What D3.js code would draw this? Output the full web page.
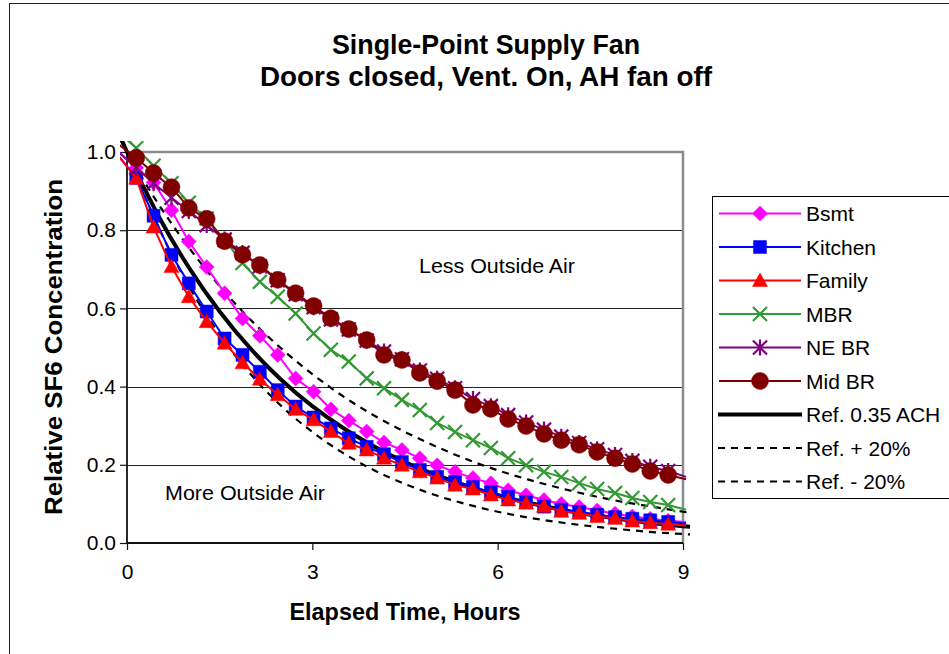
<!DOCTYPE html>
<html>
<head>
<meta charset="utf-8">
<script src="https://cdnjs.cloudflare.com/ajax/libs/d3/7.8.5/d3.min.js"></script>
<style>
  html, body { margin: 0; padding: 0; background: #fff; }
  svg { display: block; font-family: "Liberation Sans", Arial, sans-serif; }
</style>
</head>
<body>
<svg id="chart" width="949" height="654"></svg>
<script>
// sample times (hours) - first and last fall just outside the axis
var times = [-0.14, 0.15, 0.43, 0.72, 1.00, 1.29, 1.58, 1.87, 2.15, 2.44, 2.73, 3.02, 3.30, 3.59, 3.88,
  4.16, 4.45, 4.74, 5.02, 5.31, 5.60, 5.89, 6.17, 6.46, 6.75, 7.03, 7.32, 7.61, 7.90, 8.18, 8.47, 8.76, 9.05];

var bsmt = [1.00, 0.960, 0.922, 0.851, 0.771, 0.706, 0.639, 0.574, 0.530, 0.481, 0.421, 0.387, 0.342, 0.313, 0.285,
  0.257, 0.238, 0.217, 0.199, 0.182, 0.166, 0.153, 0.135, 0.122, 0.110, 0.100, 0.092, 0.083, 0.075, 0.068, 0.062, 0.057, 0.054];
var kitchen = [0.99, 0.934, 0.837, 0.737, 0.664, 0.592, 0.523, 0.481, 0.438, 0.391, 0.349, 0.321, 0.293, 0.268, 0.246,
  0.227, 0.207, 0.187, 0.169, 0.156, 0.143, 0.130, 0.118, 0.104, 0.093, 0.085, 0.079, 0.072, 0.066, 0.062, 0.058, 0.054, 0.050];
var family = [0.99, 0.933, 0.808, 0.707, 0.630, 0.566, 0.511, 0.461, 0.419, 0.379, 0.342, 0.315, 0.285, 0.255, 0.238,
  0.217, 0.199, 0.182, 0.166, 0.148, 0.138, 0.123, 0.110, 0.102, 0.094, 0.081, 0.076, 0.068, 0.063, 0.056, 0.052, 0.048, 0.045];
var mbr = [1.05, 1.01, 0.965, 0.92, 0.87, 0.83, 0.775, 0.716, 0.668, 0.630, 0.587, 0.536, 0.494, 0.464, 0.421,
  0.396, 0.366, 0.340, 0.307, 0.284, 0.263, 0.243, 0.217, 0.199, 0.182, 0.169, 0.153, 0.138, 0.128, 0.115, 0.105, 0.097, 0.085];
var neBr = [1.00, 0.960, 0.920, 0.883, 0.849, 0.813, 0.776, 0.742, 0.708, 0.672, 0.636, 0.603, 0.572, 0.546, 0.518,
  0.490, 0.470, 0.441, 0.420, 0.396, 0.368, 0.350, 0.327, 0.308, 0.290, 0.272, 0.256, 0.240, 0.225, 0.210, 0.195, 0.184, 0.169];
var midBr = [1.02, 0.985, 0.946, 0.910, 0.857, 0.829, 0.772, 0.737, 0.711, 0.673, 0.639, 0.606, 0.575, 0.547, 0.519,
  0.481, 0.468, 0.435, 0.414, 0.391, 0.353, 0.343, 0.317, 0.299, 0.279, 0.263, 0.251, 0.233, 0.217, 0.202, 0.184, 0.174, 0.163];

// reference decay curves, read every half hour
var refTimes = [-0.5, 0, 0.5, 1, 1.5, 2, 2.5, 3, 3.5, 4, 4.5, 5, 5.5, 6, 6.5, 7, 7.5, 8, 8.5, 9, 9.5];
var ref035 = [1.191, 1.000, 0.839, 0.705, 0.592, 0.497, 0.417, 0.350, 0.294, 0.247, 0.207, 0.174, 0.146, 0.122, 0.103, 0.086, 0.072, 0.061, 0.051, 0.043, 0.036];
var refPlus20 = [1.234, 1.000, 0.811, 0.657, 0.533, 0.432, 0.350, 0.284, 0.230, 0.186, 0.151, 0.122, 0.099, 0.080, 0.065, 0.053, 0.043, 0.035, 0.028, 0.023, 0.019];
var refMinus20 = [1.150, 1.000, 0.869, 0.756, 0.657, 0.571, 0.497, 0.432, 0.375, 0.326, 0.284, 0.247, 0.214, 0.186, 0.162, 0.141, 0.122, 0.106, 0.093, 0.080, 0.070];

var xTicks = [0, 3, 6, 9];
var yTicks = [0, 0.2, 0.4, 0.6, 0.8, 1.0];

var svg = d3.select("#chart");
var plotL = 127, plotR = 683, plotT = 152, plotB = 543;

var x = d3.scaleLinear().domain([0, 9]).range([plotL, plotR]);
var y = d3.scaleLinear().domain([0, 1]).range([plotB, plotT]);

// outer chart border
svg.append("rect").attr("x", 9.5).attr("y", 3.5).attr("width", 960).attr("height", 700)
  .attr("fill", "#fff").attr("stroke", "#222").attr("stroke-width", 1);

// titles
svg.append("text").attr("x", 486).attr("y", 54).attr("text-anchor", "middle")
  .attr("font-size", 28).attr("font-weight", "bold")
  .attr("textLength", 308).attr("lengthAdjust", "spacingAndGlyphs")
  .text("Single-Point Supply Fan");
svg.append("text").attr("x", 486).attr("y", 86).attr("text-anchor", "middle")
  .attr("font-size", 28).attr("font-weight", "bold")
  .attr("textLength", 452).attr("lengthAdjust", "spacingAndGlyphs")
  .text("Doors closed, Vent. On, AH fan off");

// gridlines
svg.append("g").selectAll("line").data(yTicks.filter(function(d) { return d > 0 && d < 1; }))
  .enter().append("line")
  .attr("x1", plotL).attr("x2", plotR)
  .attr("y1", function(d) { return Math.round(y(d)) + 0.5; })
  .attr("y2", function(d) { return Math.round(y(d)) + 0.5; })
  .attr("stroke", "#222").attr("stroke-width", 1);

// plot area border (top + right)
svg.append("path")
  .attr("d", "M" + plotL + "," + plotT + "H" + plotR + "V" + plotB)
  .attr("fill", "none").attr("stroke", "#8c8c8c").attr("stroke-width", 2.5);

// axes
var yAxis = svg.append("g").attr("transform", "translate(" + plotL + ",0)")
  .call(d3.axisLeft(y).tickValues(yTicks).tickFormat(d3.format(".1f")).tickSize(7).tickPadding(4));
var xAxis = svg.append("g").attr("transform", "translate(0," + plotB + ")")
  .call(d3.axisBottom(x).tickValues(xTicks).tickFormat(d3.format("d")).tickSize(7).tickPadding(14));
[xAxis, yAxis].forEach(function(a) {
  a.select(".domain").attr("stroke", "#111").attr("stroke-width", 1.8);
  a.selectAll(".tick line").attr("stroke", "#111").attr("stroke-width", 1.2);
  a.selectAll(".tick text").attr("font-size", 21).attr("fill", "#000")
    .style("font-family", "'Liberation Sans', Arial, sans-serif");
});
yAxis.select(".domain").attr("d", "M0," + (plotB + 0.5) + "V" + plotT);
xAxis.select(".domain").attr("d", "M" + plotL + ",0H" + plotR);

// axis titles
svg.append("text").attr("x", 405).attr("y", 620).attr("text-anchor", "middle")
  .attr("font-size", 24).attr("font-weight", "bold")
  .attr("textLength", 231).attr("lengthAdjust", "spacingAndGlyphs")
  .text("Elapsed Time, Hours");
svg.append("text").attr("transform", "translate(62,347) rotate(-90)").attr("text-anchor", "middle")
  .attr("font-size", 24).attr("font-weight", "bold")
  .attr("textLength", 336).attr("lengthAdjust", "spacingAndGlyphs")
  .text("Relative SF6 Concentration");

// annotations
svg.append("text").attr("x", 419).attr("y", 273).attr("font-size", 21)
  .attr("textLength", 156).attr("lengthAdjust", "spacingAndGlyphs").text("Less Outside Air");
svg.append("text").attr("x", 165).attr("y", 500).attr("font-size", 21)
  .attr("textLength", 160).attr("lengthAdjust", "spacingAndGlyphs").text("More Outside Air");

// clip region (lines run a few pixels past the plot edges)
svg.append("clipPath").attr("id", "plotClip").append("rect")
  .attr("x", 120).attr("y", 141).attr("width", 570).attr("height", 412);

var plot = svg.append("g").attr("clip-path", "url(#plotClip)");

var lineGen = d3.line()
  .x(function(d) { return x(d[0]); })
  .y(function(d) { return y(d[1]); });
var smoothGen = d3.line().curve(d3.curveMonotoneX)
  .x(function(d) { return x(d[0]); })
  .y(function(d) { return y(d[1]); });

var markers = {
  diamond: "M0,-7.5L7.5,0L0,7.5L-7.5,0Z",
  square: "M-6.5,-6.5H6.5V6.5H-6.5Z",
  triangle: "M0,-7.5L7.5,6L-7.5,6Z",
  cross: "M-7,-7L7,7M-7,7L7,-7",
  star: "M0,-8V8M-7,-7L7,7M-7,7L7,-7",
  circle: "M8.5,0A8.5,8.5 0 1,1 -8.5,0A8.5,8.5 0 1,1 8.5,0Z"
};

var refs = [
  { name: "Ref. 0.35 ACH", values: ref035, width: 4, dash: null },
  { name: "Ref. + 20%", values: refPlus20, width: 2.2, dash: "7,6" },
  { name: "Ref. - 20%", values: refMinus20, width: 2.2, dash: "7,6" }
];
var series = [
  { name: "Bsmt", values: bsmt, color: "#ff00ff", marker: "diamond", filled: true },
  { name: "Kitchen", values: kitchen, color: "#0000ff", marker: "square", filled: true },
  { name: "Family", values: family, color: "#ff0000", marker: "triangle", filled: true },
  { name: "MBR", values: mbr, color: "#339933", marker: "cross", filled: false },
  { name: "NE BR", values: neBr, color: "#800080", marker: "star", filled: false },
  { name: "Mid BR", values: midBr, color: "#800000", marker: "circle", filled: true }
];

refs.forEach(function(r) {
  plot.append("path")
    .datum(refTimes.map(function(t, i) { return [t, r.values[i]]; }))
    .attr("d", smoothGen)
    .attr("fill", "none").attr("stroke", "#000").attr("stroke-width", r.width)
    .attr("stroke-dasharray", r.dash);
});

function drawMarker(g, s) {
  return g.append("path").attr("d", markers[s.marker])
    .attr("fill", s.filled ? s.color : "none")
    .attr("stroke", s.color).attr("stroke-width", s.filled ? 0.5 : 2.2);
}

series.forEach(function(s) {
  var pts = times.map(function(t, i) { return [t, s.values[i]]; });
  plot.append("path").datum(pts).attr("d", lineGen)
    .attr("fill", "none").attr("stroke", s.color).attr("stroke-width", 2)
    .attr("stroke-linejoin", "round");
  pts.filter(function(p) { return p[0] >= 0 && p[0] <= 9; }).forEach(function(p) {
    var g = plot.append("g").attr("transform", "translate(" + x(p[0]) + "," + y(p[1]) + ")");
    drawMarker(g, s);
  });
});

// legend
var legend = svg.append("g");
legend.append("rect").attr("x", 712.5).attr("y", 196.5).attr("width", 250).attr("height", 302)
  .attr("fill", "#fff").attr("stroke", "#000").attr("stroke-width", 1);
var rowY = d3.scaleLinear().domain([0, 8]).range([213.5, 481.5]);

series.forEach(function(s, i) {
  var ry = rowY(i);
  legend.append("line").attr("x1", 719).attr("x2", 801).attr("y1", ry).attr("y2", ry)
    .attr("stroke", s.color).attr("stroke-width", 2);
  drawMarker(legend.append("g").attr("transform", "translate(760," + ry + ")"), s);
  legend.append("text").attr("x", 806).attr("y", ry + 7.5).attr("font-size", 21).text(s.name);
});
refs.forEach(function(r, j) {
  var ry = rowY(series.length + j);
  legend.append("line").attr("x1", 718).attr("x2", 802).attr("y1", ry).attr("y2", ry)
    .attr("stroke", "#000").attr("stroke-width", r.width).attr("stroke-dasharray", r.dash);
  legend.append("text").attr("x", 806).attr("y", ry + 7.5).attr("font-size", 21).text(r.name);
});
</script>
</body>
</html>
